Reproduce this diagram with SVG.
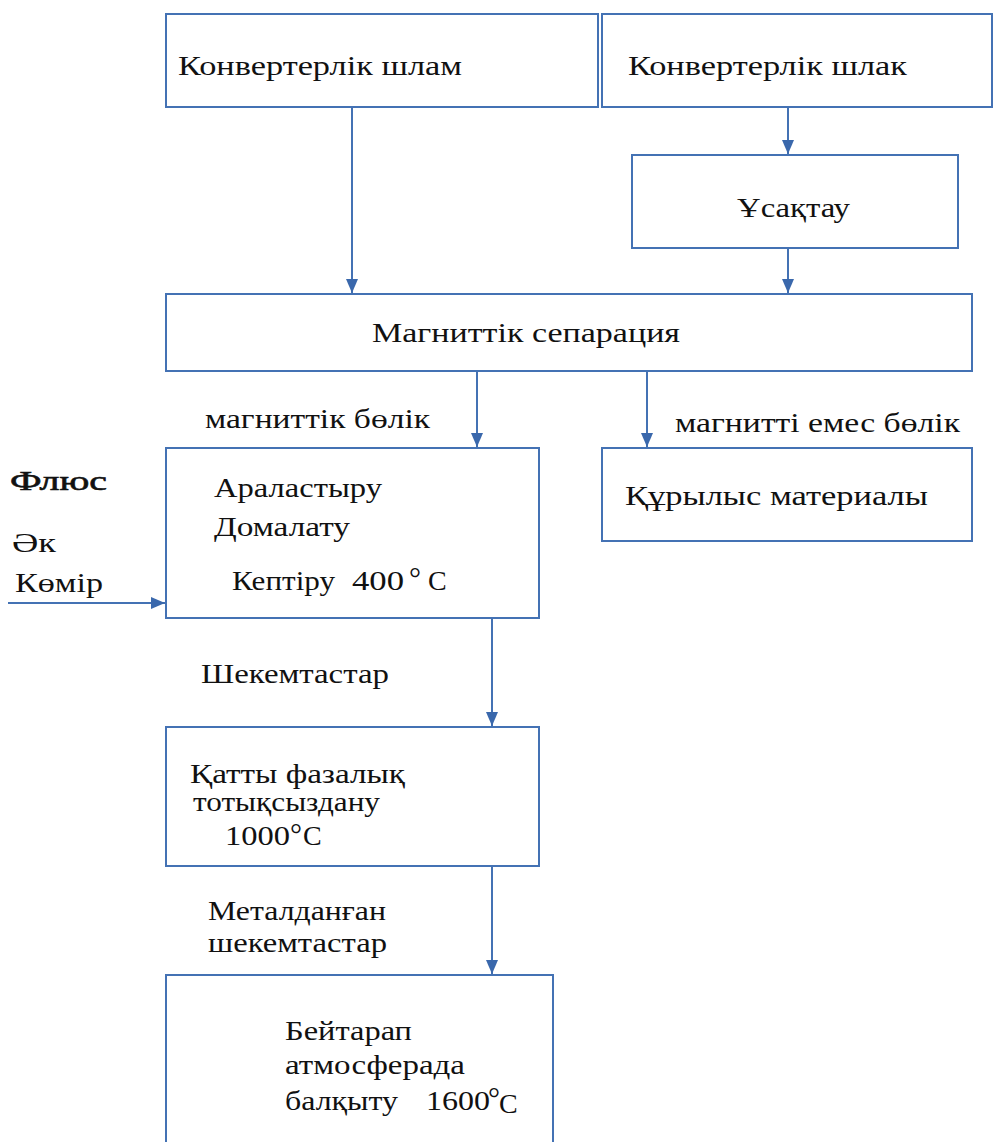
<svg xmlns="http://www.w3.org/2000/svg" width="995" height="1142" viewBox="0 0 995 1142">
<style>
.b{fill:#fff;stroke:#4472b4;stroke-width:2}
.c{stroke:#4472b4;stroke-width:2;fill:none;marker-end:url(#a)}
text{font-family:"Liberation Serif","DejaVu Serif","Times New Roman",serif;font-size:28px;fill:#111}
.d{font-size:30px}
</style>
<defs>
<marker id="a" viewBox="0 0 10 10" refX="10" refY="5" markerWidth="14" markerHeight="12" markerUnits="userSpaceOnUse" orient="auto" preserveAspectRatio="none">
<path d="M0,0L10,5L0,10z" fill="#3a68ac"/>
</marker>
</defs>
<rect width="995" height="1142" fill="#fff"/>
<g id="connectors">
<line class="c" x1="352" y1="107" x2="352" y2="293"/>
<line class="c" x1="788" y1="107" x2="788" y2="154"/>
<line class="c" x1="788" y1="248" x2="788" y2="293"/>
<line class="c" x1="477" y1="371" x2="477" y2="447"/>
<line class="c" x1="647" y1="371" x2="647" y2="447"/>
<line class="c" x1="8" y1="603" x2="165" y2="603"/>
<line class="c" x1="492" y1="618" x2="492" y2="726"/>
<line class="c" x1="492" y1="866" x2="492" y2="974"/>
</g>
<g id="n1"><rect class="b" x="166" y="14" width="432" height="93"/><text x="178" y="75" textLength="284" lengthAdjust="spacingAndGlyphs">Конвертерлік шлам</text></g>
<g id="n2"><rect class="b" x="602" y="14" width="390" height="93"/><text x="628" y="75" textLength="279" lengthAdjust="spacingAndGlyphs">Конвертерлік шлак</text></g>
<g id="n3"><rect class="b" x="632" y="155" width="326" height="93"/><text x="737" y="217" textLength="113" lengthAdjust="spacingAndGlyphs">Ұсақтау</text></g>
<g id="n4"><rect class="b" x="166" y="294" width="806" height="77"/><text x="372" y="342" textLength="308" lengthAdjust="spacingAndGlyphs">Магниттік сепарация</text></g>
<g id="n5"><rect class="b" x="166" y="448" width="373" height="170"/>
<text x="214" y="497" textLength="168" lengthAdjust="spacingAndGlyphs">Араластыру</text>
<text x="214" y="536" textLength="136" lengthAdjust="spacingAndGlyphs">Домалату</text>
<text x="232" y="590" textLength="103" lengthAdjust="spacingAndGlyphs">Кептіру</text>
<text x="352" y="590" textLength="52" lengthAdjust="spacingAndGlyphs">400</text>
<text class="d" x="409" y="588">°</text>
<text x="428" y="590">С</text></g>
<g id="n6"><rect class="b" x="602" y="448" width="370" height="93"/><text x="625" y="505" textLength="303" lengthAdjust="spacingAndGlyphs">Құрылыс материалы</text></g>
<g id="n7"><rect class="b" x="166" y="727" width="373" height="139"/>
<text x="190" y="783" textLength="215" lengthAdjust="spacingAndGlyphs">Қатты фазалық</text>
<text x="193" y="811" textLength="187" lengthAdjust="spacingAndGlyphs">тотықсыздану</text>
<text x="225" y="845" textLength="65" lengthAdjust="spacingAndGlyphs">1000</text>
<text class="d" x="290" y="844">°</text>
<text x="303" y="845">С</text></g>
<g id="n8"><rect class="b" x="166" y="975" width="387" height="180"/>
<text x="285" y="1040" textLength="127" lengthAdjust="spacingAndGlyphs">Бейтарап</text>
<text x="285" y="1074" textLength="180" lengthAdjust="spacingAndGlyphs">атмосферада</text>
<text x="285" y="1110" textLength="113" lengthAdjust="spacingAndGlyphs">балқыту</text>
<text x="426" y="1110" textLength="64" lengthAdjust="spacingAndGlyphs">1600</text>
<text class="d" x="488" y="1108">°</text>
<text x="499" y="1113">С</text></g>
<g id="labels">
<text x="205" y="428" textLength="225" lengthAdjust="spacingAndGlyphs">магниттік бөлік</text>
<text x="675" y="432" textLength="285" lengthAdjust="spacingAndGlyphs">магнитті емес бөлік</text>
<text x="10" y="490" textLength="97" lengthAdjust="spacingAndGlyphs" stroke="#111" stroke-width="0.6">Флюс</text>
<text x="12" y="552" textLength="44" lengthAdjust="spacingAndGlyphs">Әк</text>
<text x="15" y="592" textLength="88" lengthAdjust="spacingAndGlyphs">Көмір</text>
<text x="201" y="683" textLength="188" lengthAdjust="spacingAndGlyphs">Шекемтастар</text>
<text x="208" y="920" textLength="178" lengthAdjust="spacingAndGlyphs">Металданған</text>
<text x="208" y="952" textLength="179" lengthAdjust="spacingAndGlyphs">шекемтастар</text>
</g>
</svg>
